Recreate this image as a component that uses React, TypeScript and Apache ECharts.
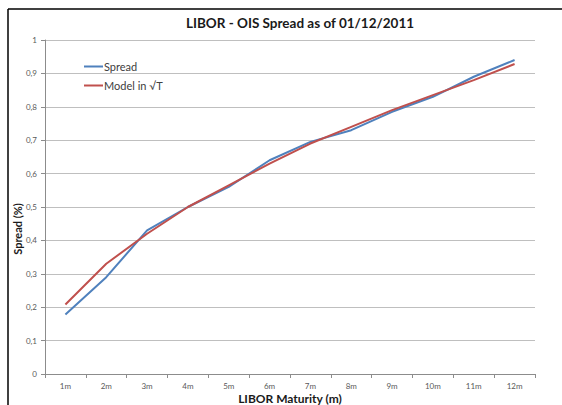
import React, { useEffect, useRef } from "react";
import * as echarts from "echarts";

const categories = ["1m", "2m", "3m", "4m", "5m", "6m", "7m", "8m", "9m", "10m", "11m", "12m"];
const spreadValues = [0.178, 0.29, 0.43, 0.5, 0.56, 0.64, 0.695, 0.73, 0.785, 0.83, 0.89, 0.94];
const modelValues = [0.208, 0.33, 0.42, 0.5, 0.565, 0.63, 0.69, 0.74, 0.79, 0.835, 0.88, 0.928];
const titleText = "LIBOR - OIS Spread as of 01/12/2011";
const xName = "LIBOR Maturity (m)";
const yName = "Spread (%)";

export default function App() {
  const ref = useRef<HTMLDivElement>(null);
  useEffect(() => {
    if (!ref.current) return;
    const chart = echarts.init(ref.current, null, { renderer: "svg" });
    chart.setOption({
      animation: false,
      backgroundColor: "#ffffff",
      textStyle: { fontFamily: "Lato" },
      title: {
        text: titleText,
        left: 295,
        textAlign: "center",
        top: 11,
        textStyle: { fontFamily: "Lato", fontWeight: "bold", fontSize: 13.5, color: "#1a1a1a" },
      },
      legend: {
        orient: "vertical",
        left: 79,
        top: 56,
        icon: "rect",
        itemWidth: 19,
        itemHeight: 2,
        itemGap: 8,
        textStyle: { fontFamily: "Lato", fontSize: 11, color: "#404040", padding: [0, 0, 0, -4] },
        data: ["Spread", "Model in √T"],
      },
      grid: { left: 45, right: 27, top: 40, bottom: 31, containLabel: false },
      xAxis: {
        type: "category",
        data: categories,
        boundaryGap: true,
        axisLine: { lineStyle: { color: "#8c8c8c", width: 1 } },
        axisTick: { show: true, length: 4, alignWithLabel: false, lineStyle: { color: "#8c8c8c" } },
        axisLabel: { fontSize: 8, color: "#595959", margin: 8, fontFamily: "Lato" },
        splitLine: { show: false },
      },
      yAxis: {
        type: "value",
        min: 0,
        max: 1,
        interval: 0.1,
        axisLine: { show: true, lineStyle: { color: "#8c8c8c", width: 1 } },
        axisTick: { show: true, length: 4, lineStyle: { color: "#8c8c8c" } },
        axisLabel: {
          fontSize: 8,
          color: "#595959",
          margin: 8,
          fontFamily: "Lato",
          formatter: (v: number) => (Math.round(v * 10) / 10).toString().replace(".", ","),
        },
        splitLine: { show: true, lineStyle: { color: "#bfbfbf", width: 1 } },
      },
      series: [
        {
          name: "Spread",
          type: "line",
          data: spreadValues,
          symbol: "none",
          lineStyle: { color: "#4F81BD", width: 2 },
          itemStyle: { color: "#4F81BD" },
          z: 2,
        },
        {
          name: "Model in √T",
          type: "line",
          data: modelValues,
          symbol: "none",
          lineStyle: { color: "#C0504D", width: 2 },
          itemStyle: { color: "#C0504D" },
          z: 3,
        },
      ],
      graphic: [
        { type: "line", shape: { x1: 8, y1: 9, x2: 562, y2: 9 }, style: { stroke: "#000", lineWidth: 1.5 } },
        { type: "line", shape: { x1: 8, y1: 9, x2: 8, y2: 405 }, style: { stroke: "#000", lineWidth: 1.5 } },
        {
          type: "text",
          x: 17,
          y: 229,
          rotation: Math.PI / 2,
          style: {
            text: yName,
            fontFamily: "Lato",
            fontWeight: "bold",
            fontSize: 11,
            fill: "#1a1a1a",
            align: "center",
            verticalAlign: "middle",
          },
        },
        {
          type: "text",
          x: 290,
          y: 392,
          style: {
            text: xName,
            fontFamily: "Lato",
            fontWeight: "bold",
            fontSize: 12,
            fill: "#1a1a1a",
            align: "center",
            verticalAlign: "top",
          },
        },
      ],
    });
    return () => chart.dispose();
  }, []);
  return (
    <div
      ref={ref}
      style={{ position: "fixed", left: 0, top: 0, width: 562, height: 405 }}
    />
  );
}
